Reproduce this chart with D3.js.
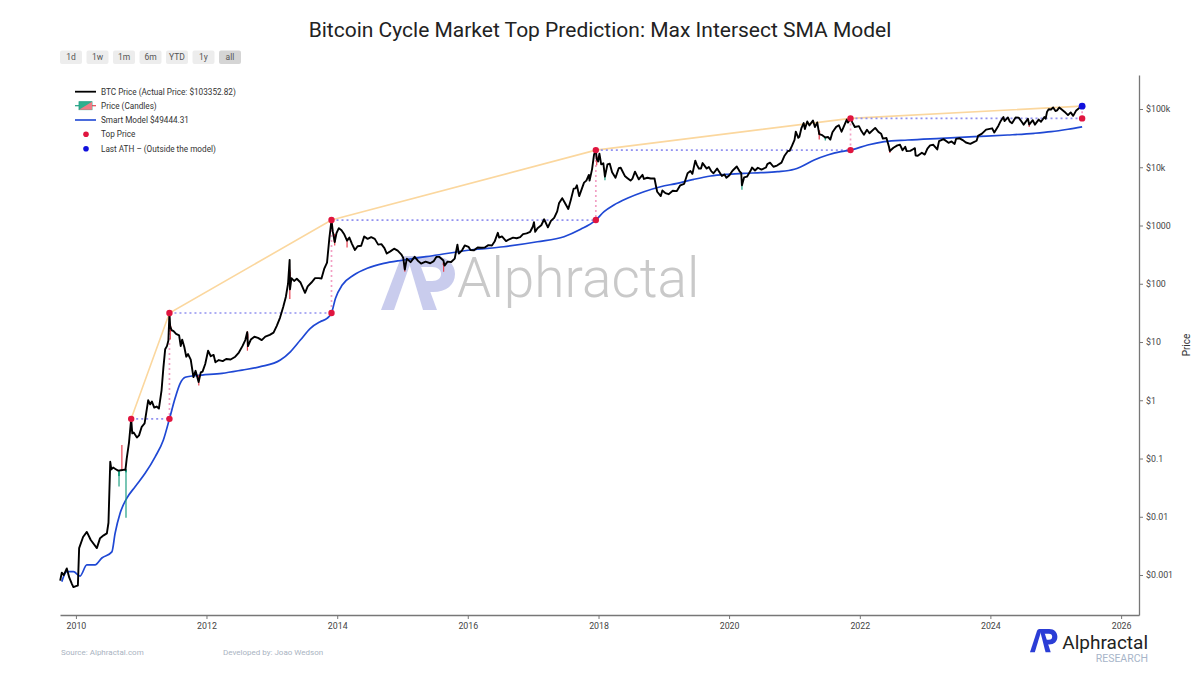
<!DOCTYPE html>
<html><head><meta charset="utf-8">
<script src="https://cdn.jsdelivr.net/npm/d3@7"></script>
<style>
html,body{margin:0;padding:0;background:#fff;}
svg{display:block;font-family:Roboto,"Noto Sans",sans-serif;}
</style></head><body>
<svg id="chart" width="1200" height="675"></svg>
<script>
// ---------------- DATA ----------------
const chartTitle = "Bitcoin Cycle Market Top Prediction: Max Intersect SMA Model";
const rangeButtons = ["1d","1w","1m","6m","YTD","1y","all"];
const legendLabels = ["BTC Price (Actual Price: $103352.82)","Price (Candles)","Smart Model $49444.31","Top Price","Last ATH \u2013 (Outside the model)"];
const xTickYears = [2010,2012,2014,2016,2018,2020,2022,2024,2026];
const yTickValues = [0.001,0.01,0.1,1,10,100,1000,10000,100000];
const yTickLabels = ["$0.001","$0.01","$0.1","$1","$10","$100","$1000","$10k","$100k"];

const priceData = [
["2009-10-05",0.0008],["2009-10-14",0.0011],["2009-10-25",0.0010],["2009-11-11",0.0013],["2009-11-25",0.0009],
["2009-12-10",0.0007],["2009-12-18",0.00062],["2010-01-05",0.00065],["2010-01-12",0.00066],["2010-01-19",0.0029],
["2010-02-10",0.0045],["2010-03-03",0.0055],["2010-03-25",0.0040],["2010-04-28",0.0029],["2010-05-16",0.0043],
["2010-06-05",0.0048],["2010-06-23",0.0052],["2010-07-02",0.0079],["2010-07-12",0.088],["2010-07-18",0.065],
["2010-07-28",0.070],["2010-08-10",0.066],["2010-08-25",0.062],["2010-09-10",0.063],["2010-09-25",0.064],
["2010-10-05",0.064],["2010-10-12",0.10],["2010-10-25",0.19],["2010-11-06",0.48],["2010-11-12",0.27],
["2010-11-20",0.28],["2010-12-08",0.23],["2010-12-20",0.25],["2011-01-04",0.35],["2011-01-20",0.40],
["2011-02-09",1.00],["2011-02-20",0.85],["2011-03-02",0.95],["2011-03-15",0.75],["2011-03-28",0.78],
["2011-04-10",0.72],["2011-04-25",1.50],["2011-05-05",3.6],["2011-05-15",7.5],["2011-05-25",8.5],
["2011-06-02",10.6],["2011-06-08",31.5],["2011-06-12",18.5],["2011-06-20",16.0],["2011-07-01",15.4],
["2011-07-15",13.8],["2011-08-01",13.0],["2011-08-10",8.5],["2011-08-18",11.0],["2011-08-30",8.2],
["2011-09-10",5.6],["2011-09-20",6.2],["2011-10-05",5.0],["2011-10-20",2.5],["2011-11-01",3.2],
["2011-11-18",2.05],["2011-11-30",3.0],["2011-12-10",3.1],["2011-12-25",4.2],["2012-01-10",7.1],
["2012-01-25",5.7],["2012-02-10",6.0],["2012-02-20",4.5],["2012-03-10",4.9],["2012-04-01",4.7],
["2012-04-20",5.1],["2012-05-15",5.0],["2012-06-10",5.6],["2012-06-30",6.6],["2012-07-20",8.5],
["2012-08-05",10.8],["2012-08-16",14.8],["2012-08-20",8.5],["2012-09-05",11.0],["2012-09-25",12.3],
["2012-10-15",11.8],["2012-11-05",10.8],["2012-11-25",12.4],["2012-12-20",13.3],["2013-01-10",14.5],
["2013-01-28",19.0],["2013-02-15",26],["2013-03-05",40],["2013-03-20",60],["2013-04-01",100],
["2013-04-10",257],["2013-04-12",80],["2013-04-20",125],["2013-05-05",112],["2013-05-20",122],
["2013-06-10",105],["2013-07-05",70],["2013-07-20",90],["2013-08-10",105],["2013-08-30",125],
["2013-09-20",125],["2013-10-05",123],["2013-10-20",180],["2013-11-05",230],["2013-11-18",600],
["2013-11-30",1240],["2013-12-07",800],["2013-12-18",520],["2013-12-28",740],["2014-01-10",900],
["2014-01-25",830],["2014-02-10",700],["2014-02-25",550],["2014-03-10",620],["2014-03-25",480],
["2014-04-10",380],["2014-04-25",440],["2014-05-15",450],["2014-06-01",650],["2014-06-20",590],
["2014-07-10",630],["2014-07-30",590],["2014-08-18",470],["2014-09-05",480],["2014-09-22",410],
["2014-10-05",330],["2014-10-25",360],["2014-11-15",400],["2014-12-05",370],["2014-12-25",320],
["2015-01-05",280],["2015-01-14",175],["2015-01-25",270],["2015-02-15",235],["2015-03-10",290],
["2015-03-30",245],["2015-04-15",222],["2015-05-10",240],["2015-06-05",225],["2015-06-25",245],
["2015-07-10",290],["2015-07-25",290],["2015-08-18",250],["2015-08-24",205],["2015-09-10",240],
["2015-09-30",236],["2015-10-20",270],["2015-11-04",470],["2015-11-12",330],["2015-11-30",375],
["2015-12-15",455],["2016-01-05",430],["2016-01-16",380],["2016-02-05",375],["2016-02-25",420],
["2016-03-15",415],["2016-04-05",420],["2016-04-25",460],["2016-05-15",455],["2016-05-30",530],
["2016-06-17",750],["2016-06-24",620],["2016-07-10",650],["2016-08-02",540],["2016-08-20",580],
["2016-09-10",620],["2016-09-30",605],["2016-10-20",630],["2016-11-05",710],["2016-11-25",735],
["2016-12-15",780],["2016-12-30",960],["2017-01-05",1140],["2017-01-12",780],["2017-01-25",900],
["2017-02-15",1010],["2017-03-03",1280],["2017-03-24",930],["2017-04-10",1200],["2017-04-28",1350],
["2017-05-15",1750],["2017-05-25",2400],["2017-06-12",2950],["2017-06-25",2500],["2017-07-16",1920],
["2017-07-30",2750],["2017-08-15",4300],["2017-08-25",4350],["2017-09-02",4900],["2017-09-15",3200],
["2017-09-25",3900],["2017-10-12",5450],["2017-10-25",5900],["2017-11-08",7400],["2017-11-12",5900],
["2017-11-26",9300],["2017-12-07",16500],["2017-12-17",19700],["2017-12-22",13800],["2017-12-30",12600],
["2018-01-06",17100],["2018-01-16",11200],["2018-01-28",11700],["2018-02-06",6900],["2018-02-20",11200],
["2018-03-05",11500],["2018-03-18",8200],["2018-04-06",6600],["2018-04-24",9600],["2018-05-05",9800],
["2018-05-28",7100],["2018-06-12",6500],["2018-06-29",5900],["2018-07-10",6400],["2018-07-24",8400],
["2018-08-14",6200],["2018-09-04",7400],["2018-09-12",6300],["2018-10-01",6600],["2018-10-20",6400],
["2018-11-10",6400],["2018-11-20",4500],["2018-11-25",3800],["2018-12-15",3200],["2018-12-24",4000],
["2019-01-10",3600],["2019-01-28",3450],["2019-02-20",3950],["2019-03-15",3900],["2019-04-03",4900],
["2019-04-25",5200],["2019-05-14",7900],["2019-05-30",8600],["2019-06-10",7700],["2019-06-26",13000],
["2019-07-05",11000],["2019-07-16",9500],["2019-07-28",9500],["2019-08-06",11800],["2019-08-29",9500],
["2019-09-10",10100],["2019-09-24",8500],["2019-10-06",7900],["2019-10-26",9500],["2019-11-22",7100],
["2019-12-06",7500],["2019-12-17",6600],["2020-01-03",7300],["2020-01-20",8700],["2020-02-13",10300],
["2020-02-28",8600],["2020-03-09",7900],["2020-03-13",4900],["2020-03-25",6700],["2020-04-10",6900],
["2020-04-30",8700],["2020-05-08",9900],["2020-05-25",8800],["2020-06-10",9800],["2020-06-30",9100],
["2020-07-25",9900],["2020-08-02",11300],["2020-08-17",12000],["2020-09-05",10200],["2020-09-25",10700],
["2020-10-20",12000],["2020-11-05",15600],["2020-11-25",19000],["2020-12-05",19200],["2020-12-17",23000],
["2021-01-01",29400],["2021-01-08",40900],["2021-01-22",32000],["2021-01-28",33300],["2021-02-08",46300],
["2021-02-21",57500],["2021-02-28",45200],["2021-03-13",61200],["2021-03-25",52300],["2021-04-14",63500],
["2021-04-25",49000],["2021-05-08",58900],["2021-05-19",37000],["2021-06-05",35500],["2021-06-22",32500],
["2021-07-08",33000],["2021-07-20",29800],["2021-08-01",40000],["2021-08-22",49300],["2021-09-06",52600],
["2021-09-21",40700],["2021-10-05",51500],["2021-10-20",66000],["2021-10-27",58400],["2021-11-10",69000],
["2021-11-20",59000],["2021-12-04",49000],["2021-12-27",50700],["2022-01-10",41800],["2022-01-24",36200],
["2022-02-10",44000],["2022-02-24",38300],["2022-03-28",47400],["2022-04-15",40500],["2022-04-30",37700],
["2022-05-10",31000],["2022-05-30",31800],["2022-06-13",22500],["2022-06-18",19000],["2022-07-08",21600],
["2022-07-30",23800],["2022-08-14",24300],["2022-08-28",19600],["2022-09-12",22400],["2022-09-20",18900],
["2022-10-10",19100],["2022-10-28",20600],["2022-11-05",21300],["2022-11-09",15900],["2022-11-21",15800],
["2022-12-14",17800],["2022-12-30",16500],["2023-01-14",20900],["2023-01-29",23700],["2023-02-16",24300],
["2023-03-10",20200],["2023-03-20",28100],["2023-04-14",30400],["2023-05-12",26300],["2023-05-29",27700],
["2023-06-15",25100],["2023-06-23",30700],["2023-07-13",31400],["2023-07-30",29300],["2023-08-17",26600],
["2023-09-11",25200],["2023-09-30",27000],["2023-10-16",28500],["2023-10-24",34500],["2023-11-15",37800],
["2023-12-08",44200],["2024-01-11",46600],["2024-01-23",39500],["2024-02-15",51800],["2024-02-28",62400],
["2024-03-14",73100],["2024-03-20",62000],["2024-04-08",71600],["2024-04-18",61300],["2024-05-01",57000],
["2024-05-21",71400],["2024-06-07",71000],["2024-06-24",60300],["2024-07-05",53900],["2024-07-29",68200],
["2024-08-05",54000],["2024-08-25",64200],["2024-09-06",53900],["2024-09-27",65800],["2024-10-10",60300],
["2024-10-29",72700],["2024-11-05",68000],["2024-11-13",90000],["2024-11-22",98900],["2024-12-05",98000],
["2024-12-17",106100],["2024-12-30",92300],["2025-01-08",94600],["2025-01-20",106000],["2025-02-03",97800],
["2025-02-25",86000],["2025-03-10",78600],["2025-03-25",87500],["2025-04-08",76300],["2025-04-25",94700],
["2025-05-12",104000],["2025-05-22",111900],["2025-05-28",103352.82]
];

// Smart Model (SMA) line
const smaData = [
["2009-10-14",0.00077],["2009-11-11",0.00114],["2009-12-18",0.00114],["2010-01-24",0.00096],["2010-03-03",0.00149],
["2010-04-18",0.00149],["2010-05-26",0.00196],["2010-07-21",0.0025],["2010-08-08",0.0052],["2010-09-05",0.0115],
["2010-10-12",0.0207],["2010-11-28",0.0328],["2011-01-23",0.0557],["2011-03-20",0.107],["2011-05-05",0.208],
["2011-06-08",0.48],["2011-07-09",1.07],["2011-08-07",1.95],["2011-09-04",2.48],["2011-10-12",2.61],
["2011-12-07",2.71],["2012-03-28",2.9],["2012-07-18",3.3],["2012-10-28",3.77],["2013-02-17",4.9],
["2013-04-14",6.8],["2013-06-09",10.8],["2013-08-04",17.2],["2013-09-28",22.3],["2013-11-05",25.5],
["2013-11-30",31.5],["2013-12-22",56],["2014-01-29",95],["2014-04-04",141],["2014-06-18",184],
["2014-09-18",224],["2015-01-08",256],["2015-07-14",312],["2016-01-16",380],["2016-07-20",432],
["2017-01-24",527],["2017-06-22",643],["2017-09-23",860],["2017-12-17",1240],["2018-02-01",1726],
["2018-03-28",2250],["2018-06-11",2930],["2018-09-12",3800],["2018-12-14",4630],["2019-03-17",5290],
["2019-06-18",6210],["2019-09-20",7080],["2019-12-23",7570],["2020-03-25",7880],["2020-06-27",8060],
["2020-09-28",8390],["2020-12-31",9230],["2021-02-06",10200],["2021-04-21",13300],["2021-07-05",16200],
["2021-09-17",18500],["2021-11-10",19700],["2022-02-14",24100],["2022-05-18",27500],["2022-09-26",29400],
["2023-03-31",31400],["2023-10-03",33500],["2024-04-07",35800],["2024-09-03",38300],["2024-12-06",40800],
["2025-03-10",44900],["2025-05-28",49444.31]
];

// Line through the cycle tops
const topCurveData = [
["2010-11-06",0.48],["2011-06-08",31.5],["2013-11-30",1240],["2017-12-17",19700],["2021-11-10",69000],["2025-05-28",111900]
];
const topPrices = [["2010-11-06",0.48],["2011-06-08",31.5],["2013-11-30",1240],["2017-12-17",19700],["2021-11-10",69000]];
const intersectPoints = [["2011-06-08",0.48],["2013-11-30",31.5],["2017-12-17",1240],["2021-11-10",19700],["2025-05-28",69000]];
const lastATH = [["2025-05-28",111900]];

// A few daily candles whose wicks stick out of the price line [date, open, high, low, close]
const candles = [
["2010-08-30",0.05,0.0636,0.033,0.062],["2010-09-15",0.065,0.17,0.062,0.063],["2010-10-08",0.058,0.066,0.0096,0.064],
["2011-06-13",19,20,11,15],["2011-11-19",2.6,2.7,1.8,2.2],["2012-08-17",14,15.4,7.1,11.6],
["2013-04-11",160,175,55,90],["2013-12-18",700,720,455,520],["2014-02-25",580,600,420,540],
["2015-01-14",220,230,160,178],["2015-08-19",230,235,160,210],["2017-12-22",15000,15800,10800,13800],
["2018-02-06",7000,7900,6000,7700],["2020-03-13",4900,5900,4100,5600],["2021-05-19",42000,43500,30000,37000],
["2021-06-22",31600,33300,28800,32500],["2022-06-18",20400,20800,17600,19000],["2024-08-05",58100,58300,49000,54000]
];

// ---------------- DRAW ----------------
const svg = d3.select("#chart");
const parse = d3.utcParse("%Y-%m-%d");
const x = d3.scaleUtc().domain([Date.UTC(2009,9,4), Date.UTC(2026,3,11)]).range([60,1139]);
const y = d3.scaleLog().domain([0.000206, 383500]).range([615,75]);
const P = d => [x(parse(d[0])), y(d[1])];

svg.append("rect").attr("width",1200).attr("height",675).attr("fill","#fff");

// title
svg.append("text").attr("x",600).attr("y",37).attr("text-anchor","middle")
  .attr("font-size",21).attr("fill","#222").text(chartTitle);

// range buttons
const btn = svg.append("g");
rangeButtons.forEach((b,i)=>{
  const bx = 60 + i*26.5;
  btn.append("rect").attr("x",bx).attr("y",50.5).attr("width",22).attr("height",13.5).attr("rx",2)
    .attr("fill", b==="all" ? "#d5d5d5" : "#ededed");
  btn.append("text").attr("x",bx+11).attr("y",57.5).attr("dy","0.35em").attr("text-anchor","middle")
    .attr("font-size",8.5).attr("fill", "#555").text(b);
});

// AP logo (unit box ~74 x 54)
const apLeft = "M0,54 L19,4 Q21,0 25,0 L32,0 L13,54 Z";
const apRight = "M26,0 L36,0 L56,54 L42,54 Z";
const apBowl = "M34,0 L52,0 C66,0 74,8 74,18 C74,29 65,36 52,36 L46,36 L41,25 L51,25 C57,25 60,22 60,18 C60,14 57,11 51,11 L38,11 Z";
function drawLogo(g, tx, ty, sx, sy, col){
  const lg = g.append("g").attr("transform",`translate(${tx},${ty}) scale(${sx},${sy})`);
  [apLeft, apRight, apBowl].forEach(d=>lg.append("path").attr("d",d).attr("fill",col));
}

// watermark
const wm = svg.append("g");
drawLogo(wm, 381, 256, 1, 1, "#c9cced");
wm.append("text").attr("x",457).attr("y",297).attr("font-size",55).attr("font-weight",300)
  .attr("fill","#c9c9c9").text("Alphractal");

const plot = svg.append("g");

// top line (orange)
plot.append("path").datum(topCurveData)
  .attr("d", d3.line().x(d=>P(d)[0]).y(d=>P(d)[1]))
  .attr("fill","none").attr("stroke","#fbd79e").attr("stroke-width",1.6);

// dotted horizontal (purple) and vertical (pink) connectors
topPrices.forEach((t,i)=>{
  const a = P(t), b = P(intersectPoints[i]);
  plot.append("line").attr("x1",a[0]).attr("y1",a[1]).attr("x2",b[0]).attr("y2",a[1])
    .attr("stroke","#9292f0").attr("stroke-width",1.7).attr("stroke-dasharray","2,3");
});
intersectPoints.forEach((p,i)=>{
  const b = P(p);
  const topY = i < topPrices.length-1 ? P(topPrices[i+1])[1] : P(lastATH[0])[1];
  plot.append("line").attr("x1",b[0]).attr("y1",topY).attr("x2",b[0]).attr("y2",b[1])
    .attr("stroke","#f2a0c4").attr("stroke-width",1.7).attr("stroke-dasharray","2,3");
});

// SMA
plot.append("path").datum(smaData)
  .attr("d", d3.line().x(d=>P(d)[0]).y(d=>P(d)[1]).curve(d3.curveMonotoneX))
  .attr("fill","none").attr("stroke","#1f48d4").attr("stroke-width",1.7);

// candles
const cg = plot.append("g");
candles.forEach(c=>{
  const cx = x(parse(c[0]));
  const up = c[4] >= c[1];
  const col = up ? "#1fa083" : "#e8414f";
  cg.append("line").attr("x1",cx).attr("x2",cx).attr("y1",y(c[2])).attr("y2",y(c[3]))
    .attr("stroke",col).attr("stroke-width",1.2);
  const yt = y(Math.max(c[1],c[4])), yb = y(Math.min(c[1],c[4]));
  cg.append("rect").attr("x",cx-1).attr("y",yt).attr("width",2).attr("height",Math.max(1,yb-yt)).attr("fill",col);
});

// price line
plot.append("path").datum(priceData)
  .attr("d", d3.line().x(d=>P(d)[0]).y(d=>P(d)[1]))
  .attr("fill","none").attr("stroke","#000").attr("stroke-width",1.9).attr("stroke-linejoin","round");

// dots
plot.selectAll("circle.top").data(topPrices.concat(intersectPoints)).enter().append("circle")
  .attr("cx",d=>P(d)[0]).attr("cy",d=>P(d)[1]).attr("r",3.2).attr("fill","#e0153f");
plot.selectAll("circle.ath").data(lastATH).enter().append("circle")
  .attr("cx",d=>P(d)[0]).attr("cy",d=>P(d)[1]).attr("r",3.4).attr("fill","#1010dc");

// axes
const xAxis = d3.axisBottom(x).tickValues(xTickYears.map(yv=>new Date(Date.UTC(yv,0,1))))
  .tickFormat(d3.utcFormat("%Y")).tickSize(4).tickPadding(4).tickSizeOuter(0);
const gx = svg.append("g").attr("transform","translate(0,615)").call(xAxis);
gx.select(".domain").attr("stroke","#777").attr("stroke-width",1.3);
gx.selectAll(".tick line").attr("stroke","#777");
gx.selectAll("text").attr("font-size",8.8).attr("fill","#444").attr("font-family","Roboto,sans-serif");

const yAxis = d3.axisRight(y).tickValues(yTickValues).tickFormat((d,i)=>yTickLabels[i])
  .tickSize(4).tickPadding(3).tickSizeOuter(0);
const gy = svg.append("g").attr("transform","translate(1139,0)").call(yAxis);
gy.select(".domain").attr("stroke","#777").attr("stroke-width",1.3);
gy.selectAll(".tick line").attr("stroke","#777");
gy.selectAll("text").attr("font-size",8.8).attr("fill","#444").attr("font-family","Roboto,sans-serif");

svg.append("text").attr("transform","translate(1190,345) rotate(-90)").attr("text-anchor","middle")
  .attr("font-size",10).attr("fill","#333").text("Price");

// legend
const lg = svg.append("g").attr("font-size",8.2).attr("fill","#333");
const ly = [91.7,105.7,120,134.3,148.7];
lg.append("line").attr("x1",75).attr("x2",96).attr("y1",ly[0]).attr("y2",ly[0]).attr("stroke","#000").attr("stroke-width",1.8);
lg.append("line").attr("x1",75).attr("x2",79).attr("y1",ly[1]).attr("y2",ly[1]).attr("stroke","#1fa083").attr("stroke-width",1.2);
lg.append("line").attr("x1",92).attr("x2",96).attr("y1",ly[1]).attr("y2",ly[1]).attr("stroke","#e8414f").attr("stroke-width",1.2);
lg.append("rect").attr("x",79).attr("y",ly[1]-4).attr("width",13).attr("height",8).attr("fill","#2fb08e").attr("stroke","#1fa083").attr("stroke-width",0.8);
lg.append("path").attr("d",`M92,${ly[1]-4} L92,${ly[1]+4} L79,${ly[1]+4} Z`).attr("fill","#f07c86");
lg.append("line").attr("x1",75).attr("x2",96).attr("y1",ly[2]).attr("y2",ly[2]).attr("stroke","#1f48d4").attr("stroke-width",1.6);
lg.append("circle").attr("cx",86).attr("cy",ly[3]).attr("r",2.8).attr("fill","#e0153f");
lg.append("circle").attr("cx",86).attr("cy",ly[4]).attr("r",2.8).attr("fill","#1010dc");
legendLabels.forEach((t,i)=>{
  lg.append("text").attr("x",101).attr("y",ly[i]).attr("dy","0.35em").text(t);
});

// footer
svg.append("text").attr("x",61).attr("y",654.5).attr("font-size",8).attr("fill","#a9b3c1").text("Source: Alphractal.com");
svg.append("text").attr("x",223).attr("y",654.5).attr("font-size",8).attr("fill","#a9b3c1").text("Developed by: Joao Wedson");

// bottom-right logo
const brand = svg.append("g");
drawLogo(brand, 1030, 629, 0.37, 0.43, "#2b3dd6");
brand.append("text").attr("x",1148).attr("y",649).attr("text-anchor","end").attr("font-size",19).attr("fill","#222").text("Alphractal");
brand.append("text").attr("x",1148).attr("y",662).attr("text-anchor","end").attr("font-size",10.5).attr("fill","#a7b5c9").text("RESEARCH");
</script>
</body></html>
